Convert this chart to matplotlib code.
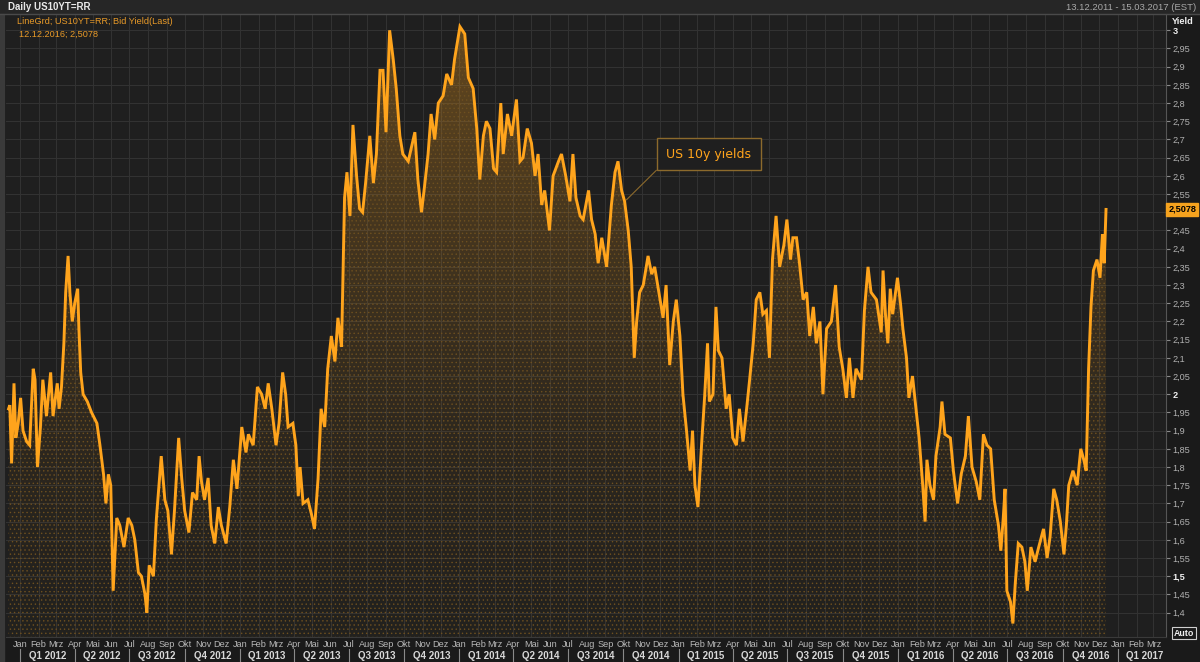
import datetime as dt
import numpy as np
import matplotlib
matplotlib.use('Agg')
import matplotlib.pyplot as plt
import matplotlib.dates as mdates
import matplotlib.transforms as mtrans
from matplotlib.patches import Polygon, Rectangle
from matplotlib.lines import Line2D

# US 10y yield
dates = [
    '2011-12-13', '2011-12-15', '2011-12-18', '2011-12-22', '2011-12-25', '2011-12-29',
    '2012-01-02', '2012-01-06', '2012-01-12', '2012-01-17', '2012-01-23', '2012-01-26',
    '2012-01-30', '2012-02-04', '2012-02-08', '2012-02-14', '2012-02-21', '2012-02-25',
    '2012-03-03', '2012-03-06', '2012-03-10', '2012-03-14', '2012-03-17', '2012-03-21',
    '2012-03-24', '2012-03-28', '2012-04-01', '2012-04-06', '2012-04-08', '2012-04-11',
    '2012-04-15', '2012-04-22', '2012-04-29', '2012-05-08', '2012-05-13', '2012-05-19',
    '2012-05-23', '2012-05-27', '2012-05-31', '2012-06-04', '2012-06-10', '2012-06-15',
    '2012-06-22', '2012-06-29', '2012-07-05', '2012-07-10', '2012-07-16', '2012-07-21',
    '2012-07-27', '2012-07-30', '2012-08-03', '2012-08-10', '2012-08-15', '2012-08-23',
    '2012-08-29', '2012-09-03', '2012-09-09', '2012-09-14', '2012-09-21', '2012-09-26',
    '2012-10-01', '2012-10-08', '2012-10-14', '2012-10-21', '2012-10-25', '2012-10-29',
    '2012-11-03', '2012-11-09', '2012-11-14', '2012-11-20', '2012-11-26', '2012-12-01',
    '2012-12-09', '2012-12-15', '2012-12-21', '2012-12-27', '2013-01-04', '2013-01-11',
    '2013-01-15', '2013-01-23', '2013-01-30', '2013-02-06', '2013-02-12', '2013-02-17',
    '2013-02-23', '2013-03-02', '2013-03-07', '2013-03-13', '2013-03-18', '2013-03-22',
    '2013-03-30', '2013-04-04', '2013-04-08', '2013-04-11', '2013-04-16', '2013-04-24',
    '2013-04-30', '2013-05-05', '2013-05-11', '2013-05-16', '2013-05-22', '2013-05-27',
    '2013-06-02', '2013-06-08', '2013-06-13', '2013-06-19', '2013-06-24', '2013-06-28',
    '2013-07-03', '2013-07-08', '2013-07-14', '2013-07-19', '2013-07-24', '2013-07-29',
    '2013-08-05', '2013-08-11', '2013-08-16', '2013-08-22', '2013-08-27', '2013-09-01',
    '2013-09-07', '2013-09-13', '2013-09-18', '2013-09-24', '2013-09-29', '2013-10-08',
    '2013-10-19', '2013-10-24', '2013-10-30', '2013-11-04', '2013-11-10', '2013-11-15',
    '2013-11-21', '2013-11-27', '2013-12-05', '2013-12-11', '2013-12-19', '2013-12-24',
    '2014-01-02', '2014-01-10', '2014-01-16', '2014-01-24', '2014-01-30', '2014-02-04',
    '2014-02-10', '2014-02-15', '2014-02-21', '2014-02-27', '2014-03-04', '2014-03-11',
    '2014-03-15', '2014-03-22', '2014-03-29', '2014-04-06', '2014-04-12', '2014-04-17',
    '2014-04-24', '2014-05-01', '2014-05-07', '2014-05-12', '2014-05-18', '2014-05-23',
    '2014-05-31', '2014-06-06', '2014-06-15', '2014-06-20', '2014-06-27', '2014-07-04',
    '2014-07-09', '2014-07-14', '2014-07-21', '2014-07-26', '2014-08-04', '2014-08-09',
    '2014-08-15', '2014-08-20', '2014-08-26', '2014-09-03', '2014-09-11', '2014-09-17',
    '2014-09-22', '2014-09-28', '2014-10-03', '2014-10-09', '2014-10-14', '2014-10-19',
    '2014-10-23', '2014-10-28', '2014-11-03', '2014-11-11', '2014-11-17', '2014-11-22',
    '2014-12-01', '2014-12-06', '2014-12-11', '2014-12-17', '2014-12-23', '2014-12-28',
    '2015-01-03', '2015-01-08', '2015-01-14', '2015-01-20', '2015-01-24', '2015-01-28',
    '2015-02-02', '2015-02-08', '2015-02-13', '2015-02-18', '2015-02-21', '2015-02-27',
    '2015-03-04', '2015-03-08', '2015-03-14', '2015-03-21', '2015-03-26', '2015-04-01',
    '2015-04-07', '2015-04-12', '2015-04-18', '2015-04-24', '2015-04-29', '2015-05-05',
    '2015-05-10', '2015-05-16', '2015-05-21', '2015-05-27', '2015-06-01', '2015-06-06',
    '2015-06-12', '2015-06-18', '2015-06-25', '2015-06-30', '2015-07-06', '2015-07-10',
    '2015-07-16', '2015-07-21', '2015-07-27', '2015-08-02', '2015-08-07', '2015-08-13',
    '2015-08-18', '2015-08-24', '2015-08-29', '2015-09-04', '2015-09-12', '2015-09-19',
    '2015-09-25', '2015-10-01', '2015-10-07', '2015-10-12', '2015-10-18', '2015-10-23',
    '2015-11-01', '2015-11-06', '2015-11-12', '2015-11-17', '2015-11-26', '2015-12-04',
    '2015-12-07', '2015-12-11', '2015-12-15', '2015-12-19', '2015-12-23', '2015-12-31',
    '2016-01-05', '2016-01-09', '2016-01-15', '2016-01-19', '2016-01-25', '2016-02-01',
    '2016-02-05', '2016-02-11', '2016-02-15', '2016-02-18', '2016-02-23', '2016-02-29',
    '2016-03-04', '2016-03-11', '2016-03-14', '2016-03-19', '2016-03-28', '2016-04-02',
    '2016-04-09', '2016-04-15', '2016-04-22', '2016-04-27', '2016-05-03', '2016-05-10',
    '2016-05-16', '2016-05-22', '2016-05-28', '2016-06-03', '2016-06-09', '2016-06-16',
    '2016-06-20', '2016-06-24', '2016-06-27', '2016-06-30', '2016-07-06', '2016-07-10',
    '2016-07-14', '2016-07-19', '2016-07-25', '2016-07-30', '2016-08-03', '2016-08-09',
    '2016-08-16', '2016-08-22', '2016-08-30', '2016-09-05', '2016-09-10', '2016-09-16',
    '2016-09-21', '2016-09-27', '2016-10-03', '2016-10-07', '2016-10-11', '2016-10-18',
    '2016-10-25', '2016-10-31', '2016-11-05', '2016-11-09', '2016-11-13', '2016-11-17',
    '2016-11-21', '2016-11-27', '2016-12-02', '2016-12-06', '2016-12-08', '2016-12-09',
    '2016-12-12',
]
yields = [
    1.96, 1.97, 1.81, 2.03, 1.88, 1.92,
    1.99, 1.90, 1.87, 1.86, 2.07, 2.04,
    1.80, 1.91, 2.04, 1.94, 2.06, 1.94,
    2.03, 1.96, 2.02, 2.14, 2.28, 2.38,
    2.28, 2.20, 2.25, 2.29, 2.18, 2.06,
    2.00, 1.98, 1.95, 1.92, 1.86, 1.78,
    1.70, 1.78, 1.75, 1.46, 1.66, 1.64,
    1.58, 1.66, 1.64, 1.60, 1.51, 1.50,
    1.45, 1.40, 1.53, 1.50, 1.66, 1.83,
    1.71, 1.68, 1.56, 1.68, 1.88, 1.77,
    1.68, 1.62, 1.73, 1.71, 1.83, 1.76,
    1.71, 1.77, 1.64, 1.59, 1.69, 1.64,
    1.59, 1.69, 1.82, 1.74, 1.91, 1.84,
    1.89, 1.86, 2.02, 2.00, 1.96, 2.03,
    1.96, 1.86, 1.92, 2.06, 2.00, 1.91,
    1.92, 1.86, 1.72, 1.80, 1.70, 1.71,
    1.67, 1.63, 1.77, 1.96, 1.91, 2.07,
    2.16, 2.09, 2.21, 2.13, 2.54, 2.61,
    2.49, 2.74, 2.60, 2.51, 2.50, 2.58,
    2.71, 2.58, 2.66, 2.89, 2.89, 2.72,
    3.00, 2.92, 2.84, 2.71, 2.66, 2.64,
    2.72, 2.59, 2.50, 2.57, 2.66, 2.77,
    2.70, 2.80, 2.82, 2.88, 2.85, 2.92,
    3.01, 2.99, 2.87, 2.84, 2.73, 2.59,
    2.71, 2.75, 2.73, 2.62, 2.61, 2.80,
    2.66, 2.77, 2.71, 2.81, 2.64, 2.65,
    2.73, 2.69, 2.60, 2.66, 2.52, 2.56,
    2.45, 2.60, 2.64, 2.66, 2.60, 2.53,
    2.66, 2.54, 2.49, 2.48, 2.56, 2.48,
    2.44, 2.36, 2.43, 2.35, 2.52, 2.61,
    2.64, 2.56, 2.53, 2.45, 2.35, 2.10,
    2.20, 2.28, 2.30, 2.38, 2.33, 2.35,
    2.26, 2.21, 2.30, 2.08, 2.20, 2.26,
    2.16, 2.00, 1.90, 1.79, 1.90, 1.75,
    1.69, 1.86, 1.99, 2.14, 1.98, 2.00,
    2.24, 2.12, 2.10, 1.96, 2.00, 1.88,
    1.86, 1.96, 1.87, 1.96, 2.04, 2.14,
    2.26, 2.28, 2.22, 2.23, 2.10, 2.37,
    2.49, 2.35, 2.41, 2.48, 2.37, 2.43,
    2.43, 2.36, 2.26, 2.28, 2.16, 2.24,
    2.14, 2.20, 2.00, 2.18, 2.20, 2.30,
    2.13, 2.07, 1.99, 2.10, 1.99, 2.07,
    2.04, 2.23, 2.35, 2.28, 2.26, 2.17,
    2.34, 2.22, 2.14, 2.29, 2.22, 2.32,
    2.25, 2.18, 2.10, 1.99, 2.05, 1.94,
    1.88, 1.75, 1.65, 1.82, 1.75, 1.71,
    1.83, 1.91, 1.98, 1.89, 1.88, 1.79,
    1.70, 1.78, 1.83, 1.94, 1.80, 1.76,
    1.71, 1.89, 1.86, 1.85, 1.71, 1.64,
    1.57, 1.66, 1.74, 1.46, 1.43, 1.37,
    1.48, 1.59, 1.58, 1.54, 1.46, 1.58,
    1.54, 1.58, 1.63, 1.55, 1.61, 1.74,
    1.71, 1.65, 1.56, 1.64, 1.75, 1.79,
    1.75, 1.85, 1.82, 1.79, 2.07, 2.24,
    2.34, 2.37, 2.32, 2.44, 2.39, 2.36,
    2.5078,
]
month_names = ['Jan', 'Feb', 'Mrz', 'Apr', 'Mai', 'Jun', 'Jul', 'Aug', 'Sep', 'Okt', 'Nov', 'Dez']
y_ticks = np.round(np.arange(1.4, 3.001, 0.05), 2)

ORANGE = '#ffa41c'
BG = '#1f1f1f'
W, H = 1200, 662
SMALL = ['Liberation Sans Narrow', 'Liberation Sans', 'DejaVu Sans']


def fx(px):
    return px / W


def fy(py):
    return 1 - py / H


xn = mdates.date2num([dt.datetime.strptime(d, '%Y-%m-%d') for d in dates])
vals = np.array(yields)

fig = plt.figure(figsize=(12, 6.62), dpi=100, facecolor='#1a1a1a')
ax = fig.add_axes([fx(6), fy(637), fx(1166) - fx(6), fy(15) - fy(637)])
ax.set_facecolor(BG)

jan12 = mdates.date2num(dt.datetime(2012, 1, 1))
x0, x1 = jan12 - 23.3, jan12 + 1906.8
y0, y1 = 1.333, 3.042

# gradient fill under the line, brighter near the top
verts = [(xn[0], y0)] + list(zip(xn, vals)) + [(xn[-1], y0)]
poly = Polygon(verts, closed=True, facecolor='none', edgecolor='none')
ax.add_patch(poly)
g = np.linspace(0, 1, 256).reshape(-1, 1)
rgba = np.zeros((256, 1, 4))
rgba[..., :3] = matplotlib.colors.to_rgb('#e8961c')
rgba[..., 3] = 0.02 + 0.34 * g ** 1.6
im = ax.imshow(rgba, extent=[xn[0], xn[-1], y0, 3.05], origin='lower',
               aspect='auto', zorder=1, interpolation='bilinear')
im.set_clip_path(poly)

# dotted texture
plt.rcParams['hatch.linewidth'] = 0.5
ax.fill_between(xn, vals, y0, facecolor='none', edgecolor='#6e5020',
                hatch='....', linewidth=0, zorder=1.5)

ax.plot(xn, vals, color=ORANGE, lw=2.1, zorder=3, solid_joinstyle='miter')

ax.set_xlim(x0, x1)
ax.set_ylim(y0, y1)

# month ticks / grid
months = []
for yr in range(2012, 2018):
    for m in range(1, 13):
        d = mdates.date2num(dt.datetime(yr, m, 1))
        if x0 < d < x1:
            months.append((d, month_names[m - 1]))
ax.set_xticks([m[0] for m in months])
ax.set_xticklabels([m[1] for m in months], family=SMALL)
ax.tick_params(axis='x', length=0, pad=2.5, labelsize=6.6, labelcolor='#b8b8b8')

# right axis, the 2,5 label sits under the last value tag
ax.yaxis.tick_right()
ax.set_yticks(y_ticks)
ax.set_yticklabels(['' if t == 2.5 else f'{t:g}'.replace('.', ',') for t in y_ticks],
                   family=SMALL)
ax.tick_params(axis='y', direction='out', length=3, width=0.8, color='#8a8a8a',
               pad=1.5, labelsize=6.6, labelcolor='#b0b0b0')
for lab, t in zip(ax.get_yticklabels(), y_ticks):
    if abs(t * 2 - round(t * 2)) < 1e-6:
        lab.set_fontweight('bold')
        lab.set_color('#f0f0f0')

ax.grid(True, color='#333333', lw=0.7, zorder=0)
ax.set_axisbelow(True)
for s in ['top', 'left']:
    ax.spines[s].set_visible(False)
ax.spines['right'].set_color('#555555')
ax.spines['bottom'].set_color('#3a3a3a')

# quarter row
bt = mtrans.blended_transform_factory(ax.transData, ax.transAxes)
ah = 622.0
for yr in range(2012, 2018):
    for q in range(4):
        qs = mdates.date2num(dt.datetime(yr, 3 * q + 1, 1))
        qe = mdates.date2num(dt.datetime(yr + (q == 3), (3 * q + 3) % 12 + 1, 1))
        if qs >= x1:
            continue
        ax.text((qs + qe) / 2, -19 / ah, f'Q{q + 1} {yr}', transform=bt, ha='center',
                va='center', fontsize=7, fontweight='bold', color='#d8d8d8', family=SMALL,
                clip_on=False)
        ax.add_line(Line2D([qs, qs], [-12 / ah, -25 / ah], transform=bt, color='#8a8a8a',
                           lw=0.8, clip_on=False))

# annotation
ax.annotate('US 10y yields', xy=(mdates.date2num(dt.datetime(2014, 10, 6)), 2.534),
            xytext=(mdates.date2num(dt.datetime(2015, 2, 20)), 2.66),
            ha='center', va='center', fontsize=9, color=ORANGE, zorder=5,
            bbox=dict(boxstyle='square,pad=0.75', fc=BG, ec='#8c6a2c', lw=1),
            arrowprops=dict(arrowstyle='-', color='#8c6a2c', lw=0.8, relpos=(0, 0),
                            shrinkA=0, shrinkB=0))

# last value tag
rt = mtrans.blended_transform_factory(ax.transAxes, ax.transData)
ax.text(1.002, yields[-1], f'{yields[-1]:.4f}'.replace('.', ','), transform=rt,
        ha='left', va='center', fontsize=6.6, fontweight='bold', color='black', family=SMALL,
        bbox=dict(boxstyle='square,pad=0.2', fc='#f5a21e', ec='#f5a21e'), zorder=6)

# header and frame
fig.patches.append(Rectangle((0, fy(14)), 1, 1 - fy(14), transform=fig.transFigure,
                             color='#262626', zorder=-1))
fig.patches.append(Rectangle((0, 0), fx(4), fy(14), transform=fig.transFigure,
                             color='#3a3a3a', zorder=-1))
fig.lines.append(Line2D([0, 1], [fy(14), fy(14)], transform=fig.transFigure,
                        color='#4a4a4a', lw=1))
fig.text(fx(8), fy(7), 'Daily US10YT=RR', color='#e8e8e8', fontsize=7, fontweight='bold',
         va='center', family=SMALL)
fig.text(fx(1196), fy(7), '13.12.2011 - 15.03.2017 (EST)', color='#a8a8a8', fontsize=6.8,
         va='center', ha='right', family=SMALL)
fig.text(fx(1172), fy(21), 'Yield', color='#f0f0f0', fontsize=6.6, fontweight='bold',
         va='center', family=SMALL)
fig.text(fx(17), fy(22), 'LineGrd; US10YT=RR; Bid Yield(Last)', color='#e89a28',
         fontsize=6.6, va='center', family=SMALL)
last = dt.datetime.strptime(dates[-1], '%Y-%m-%d')
fig.text(fx(19), fy(34), last.strftime('%d.%m.%Y') + '; ' + f'{yields[-1]:.4f}'.replace('.', ','),
         color='#e89a28', fontsize=6.6, va='center', family=SMALL)
fig.text(fx(1184), fy(633), 'Auto', color='#f0f0f0', fontsize=6.4, fontweight='bold',
         va='center', ha='center', family=SMALL,
         bbox=dict(boxstyle='square,pad=0.2', fc='#1a1a1a', ec='#d0d0d0', lw=0.8))

fig.savefig('out.png', dpi=100, facecolor=fig.get_facecolor())
